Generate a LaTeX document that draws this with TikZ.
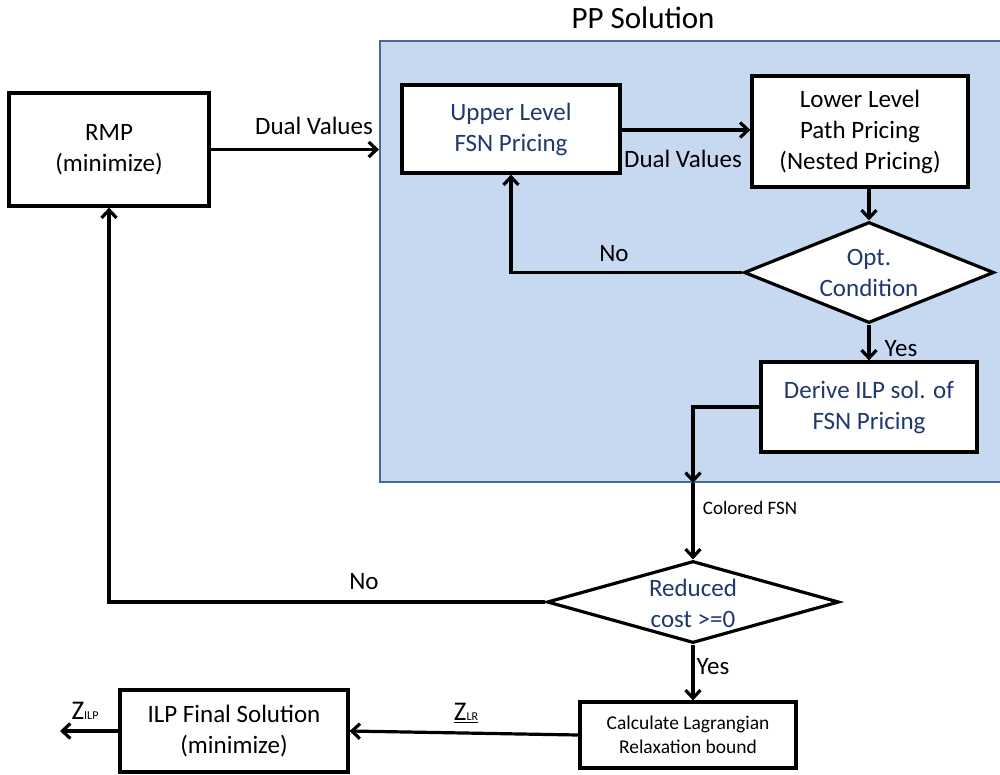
\documentclass[tikz,border=0pt]{standalone}
\usepackage{fontspec}
\setmainfont{Carlito}
\usetikzlibrary{shapes.geometric,arrows.meta}
\definecolor{ppfill}{RGB}{198,217,241}
\definecolor{ppedge}{RGB}{72,104,150}
\definecolor{navytext}{RGB}{31,56,110}
\tikzset{
  box/.style={draw=black, line width=3.2pt, fill=white, inner sep=0pt,
    align=center, font=\fontsize{25}{31}\selectfont},
  decision/.style={diamond, draw=black, line width=3.2pt, fill=white, inner sep=0pt},
  decisiontext/.style={inner sep=0pt, align=center, text=navytext,
    font=\fontsize{25}{31}\selectfont},
  ppframe/.style={draw=ppedge, line width=2pt, fill=ppfill, inner sep=0pt},
  flow/.style={line width=3.2pt, -{Straight Barb[length=8pt,width=15pt,line width=3.2pt]}},
  lbl/.style={inner sep=0pt, font=\fontsize{25}{30}\selectfont},
  smalllbl/.style={inner sep=0pt, font=\fontsize{19}{23}\selectfont},
  zlbl/.style={inner sep=0pt, font=\fontsize{27}{30}\selectfont},
}
\begin{document}
\begin{tikzpicture}[x=1pt,y=-1pt]
\useasboundingbox (0,0) rectangle (1000,774);
\clip (0,0) rectangle (1000,774);

% pricing problem frame
\node[ppframe, minimum width=632pt, minimum height=441pt] (pp) at (696,261.5) {};
\node[inner sep=0pt, font=\fontsize{31}{36}\selectfont] (pptitle) at (643,18) {PP Solution};

% boxes
\node[box, minimum width=200pt, minimum height=113pt] (rmp) at (109,149.5) {RMP\\(minimize)};
\node[box, text=navytext, minimum width=218pt, minimum height=88pt] (upper) at (511,129) {Upper Level\\FSN Pricing};
\node[box, minimum width=216pt, minimum height=111pt] (lower) at (860,131.5) {Lower Level\\Path Pricing\\(Nested Pricing)};
\node[decision, minimum width=250pt, minimum height=101pt] (opt) at (869,272.5) {};
\node[decisiontext] (opttext) at (opt.center) {Opt.\\Condition};
\node[box, text=navytext, minimum width=216pt, minimum height=90pt] (derive) at (869,407) {Derive ILP sol. of\\FSN Pricing};
\node[decision, minimum width=292pt, minimum height=82pt] (reduced) at (693,602) {};
\node[decisiontext] (reducedtext) at (693,603) {Reduced\\cost >=0};
\node[box, font=\fontsize{19.5}{24}\selectfont, minimum width=216pt, minimum height=66pt] (calc) at (688,735) {Calculate Lagrangian\\Relaxation bound};
\node[box, minimum width=228pt, minimum height=82pt] (ilp) at (234,731) {ILP Final Solution\\(minimize)};

\coordinate (ppentry) at (pp.west |- rmp.east);
\coordinate (ppexit) at (pp.south -| reduced.north);
\coordinate (zout) at (60,731);

% connectors
\draw[flow] (rmp.east) -- (ppentry);
\draw[flow] (upper.east |- 0,130) -- (lower.west |- 0,130);
\draw[flow] (lower.south -| opt.north) -- (opt.north);
\draw[flow] (opt.west) -| (upper.south);
\draw[flow] (opt.south) -- (derive.north);
\draw[flow] (derive.west) -| (ppexit);
\draw[flow] (ppexit) -- (reduced.north);
\draw[flow] (reduced.west) -| (rmp.south);
\draw[flow] (reduced.south) -- (reduced.south |- calc.north);
\draw[flow] (calc.west) -- (ilp.east);
\draw[flow] (ilp.west) -- (zout);

% labels
\node[lbl] (dv1) at (314,126) {Dual Values};
\node[lbl] (dv2) at (683,159) {Dual Values};
\node[lbl] (no1) at (614,254) {No};
\node[lbl] (yes1) at (901,349) {Yes};
\node[smalllbl] (colored) at (750,508) {Colored FSN};
\node[lbl] (no2) at (364,582) {No};
\node[lbl] (yes2) at (713,667) {Yes};
\node[zlbl] (zlr) at (466,713) {\underline{Z{\fontsize{12}{13}\selectfont LR}}};
\node[zlbl] (zilp) at (85,711) {Z{\fontsize{12}{13}\selectfont ILP}};
\end{tikzpicture}
\end{document}
